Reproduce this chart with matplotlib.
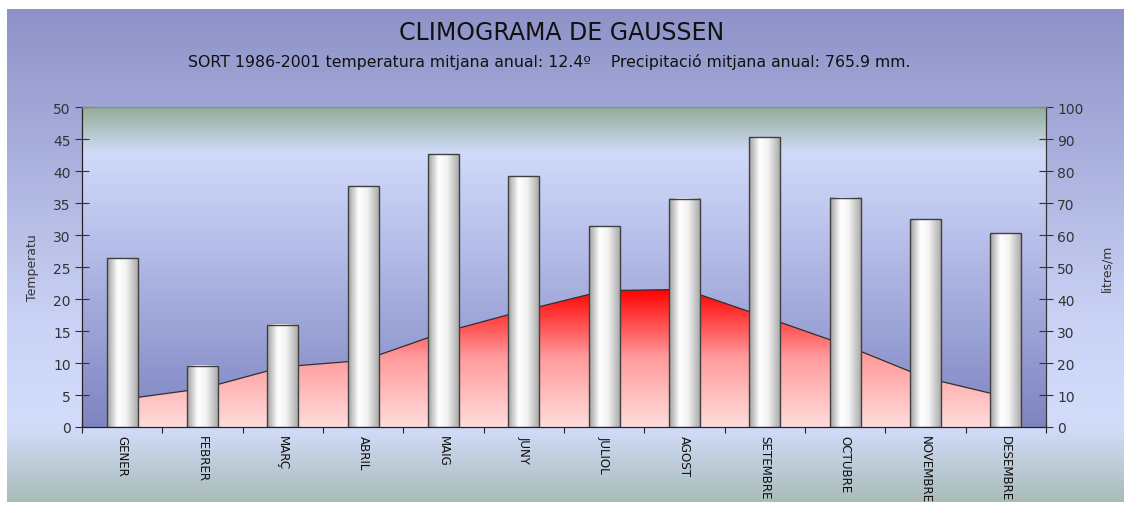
import numpy as np
import matplotlib.pyplot as plt
from matplotlib.colors import LinearSegmentedColormap

# monthly climate data, Sort 1986-2001
months = ['GENER', 'FEBRER', 'MARÇ', 'ABRIL', 'MAIG', 'JUNY', 'JULIOL',
          'AGOST', 'SETEMBRE', 'OCTUBRE', 'NOVEMBRE', 'DESEMBRE']
temperature = [4.3, 6.0, 9.4, 10.4, 14.8, 18.2, 21.3, 21.5, 17.2, 12.8, 7.7, 4.7]
precipitation = [52.8, 19.1, 31.9, 75.3, 85.3, 78.4, 62.8, 71.3, 90.6, 71.6, 65.0, 60.6]

title = 'CLIMOGRAMA DE GAUSSEN'
subtitle = ('SORT 1986-2001 temperatura mitjana anual: 12.4º    '
            'Precipitació mitjana anual: 765.9 mm.')

W, H = 1124, 506
fig = plt.figure(figsize=(W / 100, H / 100), dpi=100, facecolor='white')

# chart area background gradient
bg = fig.add_axes([7 / W, 3 / H, 1117 / W, 493 / H], zorder=-10)
bg_cmap = LinearSegmentedColormap.from_list(
    'bg', [(0.0, '#a9bcb9'), (0.15, '#d2dcfa'), (0.35, '#cbd4f6'), (1.0, '#8e92c8')])
bg.imshow(np.linspace(0, 1, 256).reshape(-1, 1), cmap=bg_cmap, aspect='auto',
          origin='lower', extent=[0, 1, 0, 1])
bg.axis('off')

ax = fig.add_axes([82 / W, 1 - 428 / H, 964 / W, 320 / H])
ax2 = ax.twinx()

x = np.arange(len(months))
ax.set_xlim(-0.5, len(months) - 0.5)
ax.set_ylim(0, 50)
ax2.set_ylim(0, 100)

# plot area gradient: green at top, light blue, darker blue at bottom
pa_cmap = LinearSegmentedColormap.from_list(
    'pa', [(0.0, '#7e84c0'), (0.55, '#b4bce8'), (0.86, '#d0daf9'), (1.0, '#93ad96')])
ax.imshow(np.linspace(0, 1, 256).reshape(-1, 1), cmap=pa_cmap, aspect='auto',
          origin='lower', extent=[-0.5, len(months) - 0.5, 0, 50], zorder=0)

# temperature area with vertical red gradient
poly = ax.fill_between(x, temperature, 0, facecolor='none', edgecolor='none', zorder=2)
red_cmap = LinearSegmentedColormap.from_list(
    'red', [(0.0, '#ffdcdc'), (0.5, '#ff9c9c'), (1.0, '#ff0000')])
grad = ax.imshow(np.linspace(0, 1, 256).reshape(-1, 1), cmap=red_cmap, aspect='auto',
                 origin='lower', extent=[x[0], x[-1], 0, max(temperature)], zorder=2)
grad.set_clip_path(poly.get_paths()[0], transform=ax.transData)
ax.plot(x, temperature, color='#303030', lw=0.9, zorder=3)

# precipitation bars with horizontal grey-white gradient
bars = ax2.bar(x, precipitation, width=0.39, facecolor='none',
               edgecolor='#404040', lw=1.0, zorder=3)
bar_cmap = LinearSegmentedColormap.from_list(
    'bar', [(0.0, '#a0a0a0'), (0.33, '#ffffff'), (0.6, '#f2f2f2'), (1.0, '#a6a6a6')])
for b in bars:
    x0, y0 = b.get_x(), b.get_y()
    ax2.imshow(np.linspace(0, 1, 64).reshape(1, -1), cmap=bar_cmap, aspect='auto',
               extent=[x0, x0 + b.get_width(), y0, y0 + b.get_height()], zorder=2)
ax2.set_xlim(-0.5, len(months) - 0.5)
ax2.set_ylim(0, 100)
ax2.patch.set_visible(False)

# ticks
ax.set_yticks(np.arange(0, 51, 5))
ax2.set_yticks(np.arange(0, 101, 10))
ax.set_xticks(np.arange(-0.5, len(months), 1.0))
ax.set_xticklabels([])
ax.set_xticks(x, minor=True)
ax.set_xticklabels(months, minor=True, rotation=270, fontsize=8.6,
                   va='top', ha='center', color='#111111')
ax.tick_params(axis='x', which='minor', length=0, pad=6)
ax.tick_params(axis='x', which='major', direction='inout', length=8, color='#222222')
ax.tick_params(axis='y', direction='inout', length=10, labelsize=10,
               labelcolor='#333333', color='#333333', pad=3)
ax2.tick_params(axis='y', direction='inout', length=10, labelsize=10,
                labelcolor='#333333', color='#333333', pad=3)

for a in (ax, ax2):
    a.spines['top'].set_color('#7f8f7f')
    a.spines['left'].set_color('#222222')
    a.spines['right'].set_color('#333333')
    a.spines['bottom'].set_color('#222222')

ax.set_ylabel('Temperatu', fontsize=9, color='#333333', labelpad=10)
ax2.set_ylabel('litres/m', fontsize=9, color='#333333', labelpad=12, rotation=90)

fig.text(0.5, 1 - 33 / H, title, ha='center', va='center', fontsize=17, color='#111111')
fig.text(0.489, 1 - 62 / H, subtitle, ha='center', va='center', fontsize=11.3,
         color='#111111')

fig.savefig('out.png', dpi=100, facecolor='white')
